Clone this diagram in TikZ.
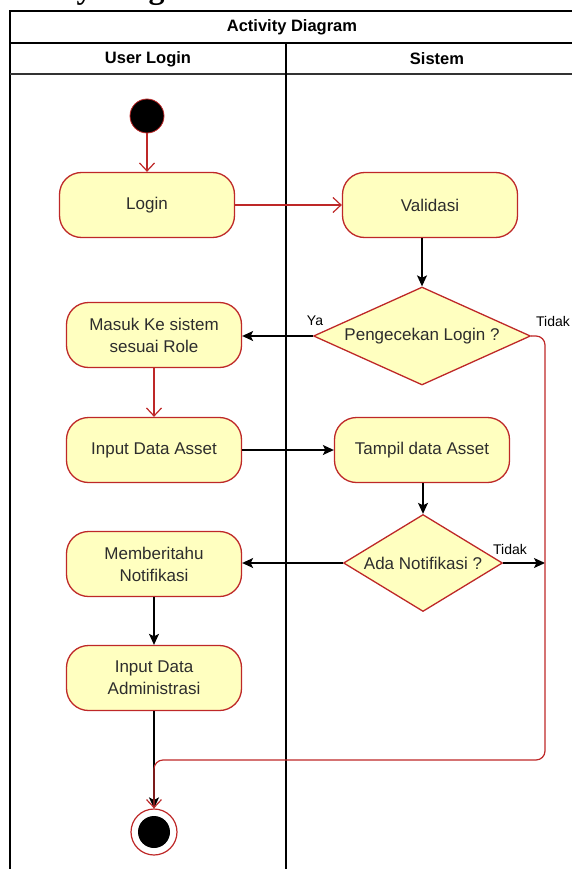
\documentclass[tikz,border=0pt]{standalone}
\usepackage{fontspec}
\setmainfont{Liberation Sans}
\newfontfamily\headserif{Liberation Serif}
\usetikzlibrary{shapes.geometric,arrows.meta}
\definecolor{nodered}{RGB}{190,40,40}
\definecolor{nodefill}{RGB}{255,255,192}
\definecolor{txtgray}{RGB}{45,45,45}
\begin{document}
\begin{tikzpicture}[x=1pt,y=-1pt,
 act/.style={draw=nodered,fill=nodefill,rounded corners=22pt,minimum width=175pt,minimum height=65pt,line width=1.3pt,align=center,font=\fontsize{17}{22}\selectfont,text=txtgray,inner sep=0pt},
 dec/.style={diamond,draw=nodered,fill=nodefill,line width=1.3pt,font=\fontsize{17}{22}\selectfont,text=txtgray,inner sep=0pt},
 redarr/.style={draw=nodered,line width=1.2pt,-{Straight Barb[length=8pt,width=15pt]}},
 blkarr/.style={draw=black,line width=1.3pt,-{Stealth[length=11pt,width=10pt,inset=2.5pt]}},
 lbl/.style={font=\fontsize{14}{16}\selectfont,inner sep=0pt},
 hdr/.style={font=\bfseries\fontsize{16.5}{20}\selectfont,inner sep=0pt}
]
\useasboundingbox (0,0) rectangle (572,869);
\clip (0,0) rectangle (572,869);
% cut-off heading above the frame
\node[anchor=base west,inner sep=0pt,font=\headserif\bfseries\fontsize{32}{36}\selectfont] (heading) at (-16,-1) {Activity Diagram};
% pool and lanes
\draw[line width=1.5pt] (10,880) -- (10,11) -- (600,11);
\draw[line width=1.5pt] (10,43) -- (600,43);
\draw[line width=2.5pt,black!80] (10,74) -- (600,74);
\draw[line width=1.5pt] (286,43) -- (286,880);
\node[hdr] (title) at (292,27) {Activity Diagram};
\node[hdr] (lane1) at (148,59) {User Login};
\node[hdr] (lane2) at (437,59) {Sistem};
% nodes
\node[circle,fill=black,draw=nodered,line width=0.8pt,minimum size=34pt,inner sep=0pt] (start) at (147,116) {};
\node[act] (login) at (147,205) {Login};
\node[act] (valid) at (430,205) {Validasi};
\node[dec,minimum width=217pt,minimum height=98pt,aspect=2.2] (cek) at (422,336) {Pengecekan Login ?};
\node[act] (masuk) at (154,335) {Masuk Ke sistem\\sesuai Role};
\node[act] (inasset) at (154,450) {Input Data Asset};
\node[act] (tampil) at (422,450) {Tampil data Asset};
\node[dec,minimum width=159pt,minimum height=97pt,aspect=1.64] (notif) at (423,563) {Ada Notifikasi ?};
\node[act] (beri) at (154,564) {Memberitahu\\Notifikasi};
\node[act] (admin) at (154,678) {Input Data\\Administrasi};
\node[circle,draw=nodered,fill=white,line width=1.2pt,minimum size=46pt,inner sep=0pt] (final) at (154,832) {};
\node[circle,fill=black,minimum size=32pt,inner sep=0pt] (finalin) at (154,832) {};
% labels
\node[lbl] (ya) at (315,321) {Ya};
\node[lbl] (tidak1) at (553,321) {Tidak};
\node[lbl] (tidak2) at (510,549) {Tidak};
% connectors
\draw[redarr] (start) -- (login);
\draw[redarr] (login) -- (valid);
\draw[blkarr] (valid.south -| cek.north) -- (cek.north);
\draw[blkarr] (cek.west) -- (cek.west -| masuk.east);
\draw[redarr] (masuk) -- (inasset);
\draw[blkarr] (inasset) -- (tampil);
\draw[blkarr] (tampil.south -| notif.north) -- (notif.north);
\draw[blkarr] (notif.west) -- (notif.west -| beri.east);
\coordinate (redx) at (545,563);
\draw[blkarr] (notif.east) -- (redx);
\draw[blkarr] (beri) -- (admin);
\draw[blkarr] (admin) -- (final);
\draw[redarr,rounded corners=9pt] (cek.east) -- (545,336) -- (545,760) -- (154,760) -- (final.north);
\end{tikzpicture}
\end{document}
